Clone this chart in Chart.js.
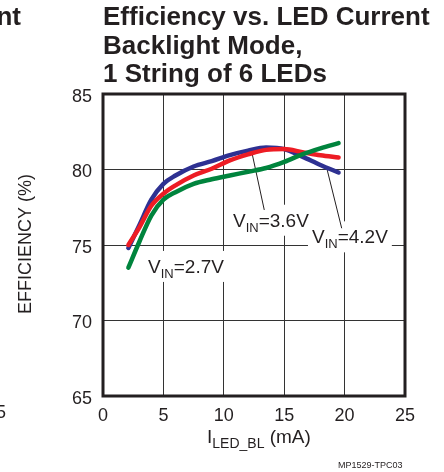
<!DOCTYPE html>
<html>
<head>
<meta charset="utf-8">
<script src="https://cdn.jsdelivr.net/npm/chart.js@4.4.0/dist/chart.umd.min.js"></script>
<style>
  html, body { margin: 0; padding: 0; background: #fff; }
</style>
</head>
<body>
<canvas id="chart" width="444" height="472"></canvas>
<script>
// Datos (corriente LED en mA, eficiencia en %)
const currentMa = [2.1, 3, 4, 5, 6, 7.5, 9, 10.5, 12, 13.5, 15, 16.5, 18, 19.5];
const eff27 = [73.5, 75.2, 76.95, 78.0, 78.5, 79.05, 79.35, 79.6, 79.85, 80.1, 80.5, 81.0, 81.4, 81.75];
const eff36 = [75.0, 76.15, 77.6, 78.4, 78.95, 79.6, 80.05, 80.6, 81.0, 81.3, 81.35, 81.15, 80.95, 80.8];
const eff42 = [74.8, 76.3, 78.0, 79.05, 79.6, 80.2, 80.55, 80.95, 81.25, 81.45, 81.35, 80.85, 80.3, 79.8];
const xTicks = [0, 5, 10, 15, 20, 25];
const yTicks = [65, 70, 75, 80, 85];
const titleLines = ['Efficiency vs. LED Current', 'Backlight Mode,', '1 String of 6 LEDs'];

const FONT = "'Liberation Sans', Arial, sans-serif";
const INK = '#231F20';

function points(ys) {
    return currentMa.map((x, i) => ({ x: x, y: ys[i] }));
}

// Texto con subindice: V + IN + =3.6V
function drawSub(ctx, x, y, main, sub, rest, size, subSize) {
    ctx.font = size + 'px ' + FONT;
    ctx.fillText(main, x, y);
    x += ctx.measureText(main).width;
    ctx.font = subSize + 'px ' + FONT;
    ctx.fillText(sub, x, y + 5);
    x += ctx.measureText(sub).width;
    ctx.font = size + 'px ' + FONT;
    ctx.fillText(rest, x, y);
    return x + ctx.measureText(rest).width;
}

// Etiquetas VIN (posiciones en unidades de datos)
const vinLabels = [
    { text: '=2.7V', at: [3.73, 73.15], tip: null },
    { text: '=3.6V', at: [10.76, 76.21], from: [13.35, 77.32], tip: [12.31, 81.18] },
    { text: '=4.2V', at: [17.3, 75.11], from: [19.76, 76.11], tip: [18.52, 80.1] }
];

const annotations = {
    id: 'annotations',
    beforeDatasetsDraw(chart) {
        const ctx = chart.ctx;
        const xs = chart.scales.x, ys = chart.scales.y;
        ctx.save();
        vinLabels.forEach(l => {
            const x = xs.getPixelForValue(l.at[0]);
            const y = ys.getPixelForValue(l.at[1]);
            ctx.font = '19px ' + FONT;
            let w = ctx.measureText('V' + l.text).width;
            ctx.font = '13px ' + FONT;
            w += ctx.measureText('IN').width;
            ctx.fillStyle = '#fff';
            ctx.fillRect(x - 4, y - 22, w + 8, 31);
            ctx.fillStyle = INK;
            drawSub(ctx, x, y, 'V', 'IN', l.text, 19, 13);
            if (l.tip) {
                ctx.strokeStyle = INK;
                ctx.lineWidth = 1;
                ctx.beginPath();
                ctx.moveTo(xs.getPixelForValue(l.from[0]), ys.getPixelForValue(l.from[1]));
                ctx.lineTo(xs.getPixelForValue(l.tip[0]), ys.getPixelForValue(l.tip[1]));
                ctx.stroke();
            }
        });
        ctx.restore();
    },
    afterDraw(chart) {
        const ctx = chart.ctx;
        const a = chart.chartArea;
        ctx.save();
        // marco grueso
        ctx.strokeStyle = INK;
        ctx.lineWidth = 3;
        ctx.strokeRect(a.left, a.top, a.right - a.left, a.bottom - a.top);

        // titulo
        ctx.fillStyle = INK;
        ctx.font = 'bold 26px ' + FONT;
        ctx.textBaseline = 'alphabetic';
        ctx.textAlign = 'left';
        const baselines = [25, 53.5, 82];
        titleLines.forEach((t, i) => ctx.fillText(t, 103, baselines[i]));
        // resto del grafico vecino (cortado)
        ctx.textAlign = 'right';
        ctx.fillText('Current', 21, 25);
        ctx.font = '18px ' + FONT;
        ctx.fillText('25', 6, 418);

        // titulo eje Y
        ctx.save();
        ctx.translate(26, 244);
        ctx.rotate(-Math.PI / 2);
        ctx.textAlign = 'center';
        ctx.textBaseline = 'middle';
        ctx.font = '18px ' + FONT;
        ctx.fillText('EFFICIENCY (%)', 0, 0);
        ctx.restore();

        // titulo eje X
        ctx.textAlign = 'left';
        drawSub(ctx, 207, 443, 'I', 'LED_BL', ' (mA)', 19, 14);

        ctx.font = '9px ' + FONT;
        ctx.fillText('MP1529-TPC03', 338, 468);
        ctx.restore();
    }
};

const ctx = document.getElementById('chart').getContext('2d');
new Chart(ctx, {
    type: 'line',
    data: {
        datasets: [
            { label: 'VIN=2.7V', data: points(eff27), borderColor: '#00843D', borderWidth: 4.5 },
            { label: 'VIN=3.6V', data: points(eff36), borderColor: '#ED1C24', borderWidth: 4.5 },
            { label: 'VIN=4.2V', data: points(eff42), borderColor: '#2E3192', borderWidth: 4.5 }
        ]
    },
    options: {
        responsive: false,
        animation: false,
        layout: { padding: { top: 94, right: 39, left: 0, bottom: 0 } },
        elements: {
            point: { radius: 0 },
            line: { cubicInterpolationMode: 'monotone', borderCapStyle: 'round', fill: false }
        },
        plugins: { legend: { display: false }, tooltip: { enabled: false } },
        scales: {
            x: {
                type: 'linear',
                min: 0,
                max: 25,
                afterFit: s => { s.height = 76; },
                afterBuildTicks: s => { s.ticks = xTicks.map(v => ({ value: v })); },
                grid: { color: '#333', lineWidth: 1, drawTicks: false },
                border: { display: false },
                ticks: { color: INK, font: { family: FONT, size: 18 }, padding: 9, maxRotation: 0 }
            },
            y: {
                min: 65,
                max: 85,
                afterFit: s => { s.width = 103; },
                afterBuildTicks: s => { s.ticks = yTicks.map(v => ({ value: v })); },
                grid: { color: '#333', lineWidth: 1, drawTicks: false },
                border: { display: false },
                ticks: { color: INK, font: { family: FONT, size: 18 }, padding: 11, labelOffset: 3 }
            }
        }
    },
    plugins: [annotations]
});
</script>
</body>
</html>
